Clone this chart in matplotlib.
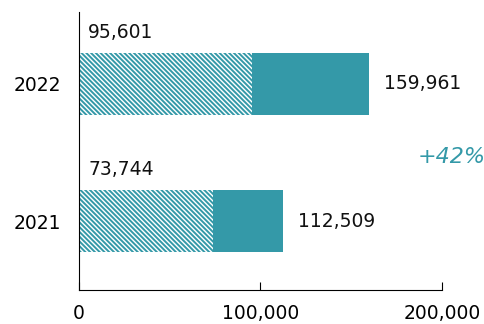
import matplotlib
matplotlib.use('Agg')
import matplotlib.pyplot as plt

years = ['2021', '2022']
hatched_vals = [73744, 95601]
total_vals = [112509, 159961]
growth_label = '+42%'

TEAL = '#3499a8'

plt.rcParams['font.family'] = 'DejaVu Sans'
plt.rcParams['hatch.linewidth'] = 1.4
plt.rcParams['hatch.color'] = TEAL

fig = plt.figure(figsize=(4.85, 3.24), dpi=100)
ax = fig.add_axes([0.163, 0.105, 0.748, 0.858])

ypos = list(range(len(years)))
bar_h = 0.45

ax.barh(ypos, total_vals, height=bar_h, color=TEAL, linewidth=0)
ax.barh(ypos, hatched_vals, height=bar_h, color='white', edgecolor=TEAL,
        hatch='\\' * 7, linewidth=0)

for y, h, t in zip(ypos, hatched_vals, total_vals):
    ax.text(5000, y + bar_h / 2 + 0.08, f'{h:,}', ha='left', va='bottom', fontsize=13.5, color='#111111')
    ax.text(t + 8000, y, f'{t:,}', ha='left', va='center', fontsize=13.5, color='#111111')

ax.text(0.934, 0.478, growth_label, transform=ax.transAxes, ha='left', va='center',
        fontsize=16, style='italic', color=TEAL)

ax.set_xlim(0, 200000)
ax.set_ylim(-0.5, 1.52)
ax.set_yticks(ypos)
ax.set_yticklabels(years, fontsize=13.5)
ax.set_xticks([0, 100000, 200000])
ax.set_xticklabels(['0', '100,000', '200,000'], fontsize=13.5)
ax.tick_params(axis='y', length=0, pad=13)
ax.tick_params(axis='x', direction='in', length=6, pad=10)
for s in ['top', 'right']:
    ax.spines[s].set_visible(False)

fig.savefig('out.png', dpi=100, facecolor='white')
